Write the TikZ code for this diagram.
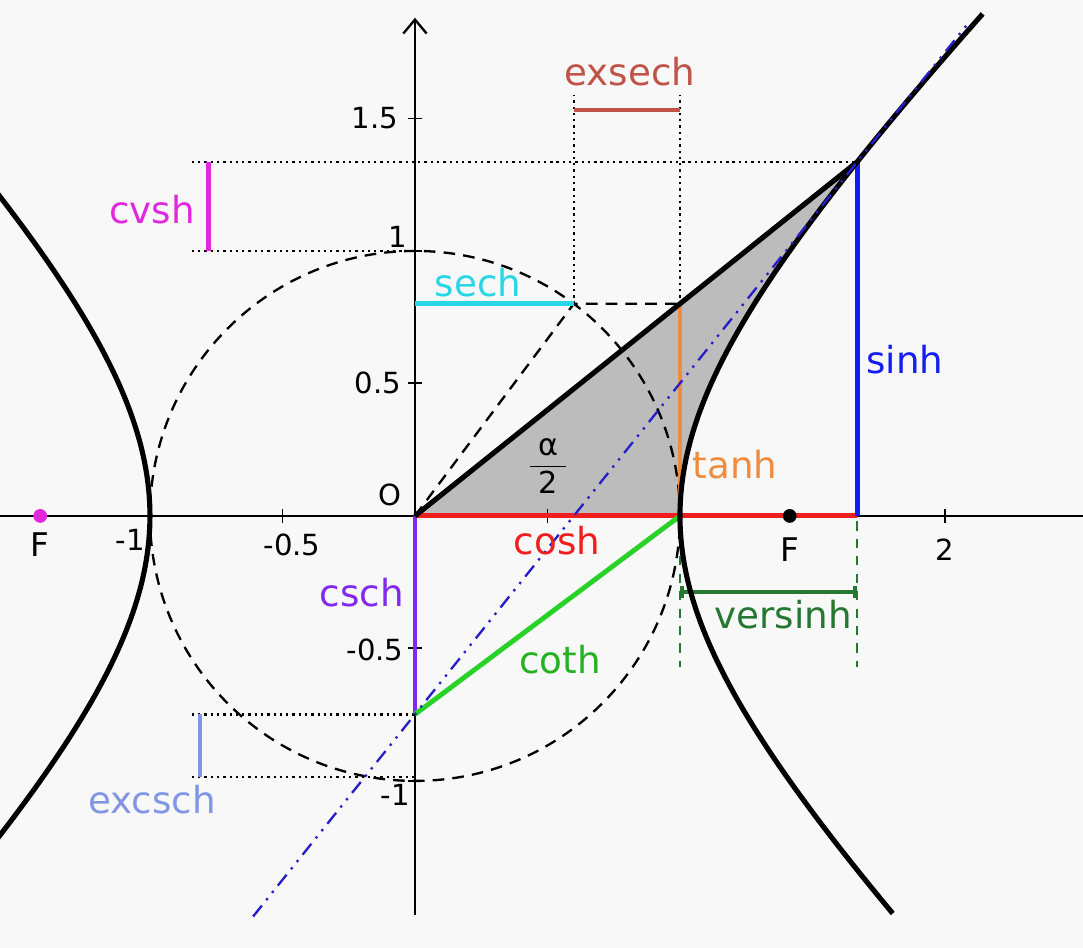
\documentclass[tikz,border=0pt]{standalone}
\usepackage{fontspec}
\setmainfont{DejaVu Sans}
\usetikzlibrary{calc,arrows.meta}

\definecolor{ExsechRed}{RGB}{192,82,72}
\definecolor{CvshMagenta}{RGB}{226,40,222}
\definecolor{SechCyan}{RGB}{40,214,230}
\definecolor{TanhOrange}{RGB}{240,140,64}
\definecolor{SinhBlue}{RGB}{20,30,240}
\definecolor{CoshRed}{RGB}{240,30,30}
\definecolor{CschPurple}{RGB}{130,40,240}
\definecolor{CothGreen}{RGB}{40,210,40}
\definecolor{VersinhGreen}{RGB}{36,120,50}
\definecolor{ExcschBlue}{RGB}{130,150,230}
\definecolor{TangentBlue}{RGB}{40,30,200}
\definecolor{AreaGrey}{RGB}{188,188,188}
\definecolor{PaperGrey}{RGB}{248,248,248}

\begin{document}
\begin{tikzpicture}[x=4cm, y=4cm,
    lbl/.style={font=\fontsize{16}{18}\selectfont},
    ticklbl/.style={font=\fontsize{12.5}{14}\selectfont},
    bar/.style={line width=2.1pt},
    guide/.style={line width=1.1pt, dash pattern=on 1pt off 1.7pt},
    curve/.style={line width=2.2pt}]
    % Frame, origin at the crossing of the axes
    \fill[PaperGrey] (-1.566,-1.630) rectangle (2.521,1.947);
    \useasboundingbox (-1.566,-1.630) rectangle (2.521,1.947);
    \clip (-1.566,-1.630) rectangle (2.521,1.947);

    % Key points for t = 1.1
    \coordinate (O) at (0,0);
    \coordinate (P) at (1.66852,1.33565);   % (cosh, sinh)
    \coordinate (H) at (1.66852,0);         % cosh on the axis
    \coordinate (A) at (1,0);
    \coordinate (T) at (1,0.80050);         % (1, tanh)
    \coordinate (S) at (0.59934,0.80050);   % (sech, tanh)
    \coordinate (Y) at (0,0.80050);
    \coordinate (C) at (0,-0.74870);        % (0, -csch)

    % Shaded hyperbolic sector
    \fill[AreaGrey] (O) -- (P) -- plot[domain=1.1:0, samples=40, smooth] ({cosh(\x)},{sinh(\x)}) -- cycle;

    % Dotted guides
    \draw[guide] (-0.842,1.33565) -- (P);
    \draw[guide] (-0.842,1) -- (0,1);
    \draw[guide] (S) -- (0.59934,1.59);
    \draw[guide] (T) -- (1,1.59);
    \draw[guide] (-0.842,-0.74870) -- (C);
    \draw[guide] (-0.842,-0.985) -- (0,-0.985);

    % Unit circle and dashed helpers
    \draw[line width=1pt, dash pattern=on 5pt off 3.5pt] (O) circle (1);
    \draw[line width=1pt, dash pattern=on 5pt off 3.5pt] (O) -- (S) -- (T);
    \draw[VersinhGreen, line width=1pt, dash pattern=on 4pt off 3.5pt] (1,-0.02) -- (1,-0.57);
    \draw[VersinhGreen, line width=1pt, dash pattern=on 4pt off 3.5pt] (1.66852,-0.02) -- (1.66852,-0.57);

    % Axes and ticks
    \draw[line width=1pt] (-1.566,0) -- (2.521,0);
    \draw[line width=1pt, -{Straight Barb[length=6pt,width=10pt]}] (0,-1.506) -- (0,1.88);
    \foreach \t in {-1,-0.5,0.5,1,2}
        \draw[line width=0.8pt] (\t,-0.028) -- (\t,0.028);
    \foreach \t in {-1,-0.5,0.5,1,1.5}
        \draw[line width=0.8pt] (-0.028,\t) -- (0.028,\t);

    % Coloured segments
    \draw[bar, CoshRed] (O) -- (H);
    \draw[bar, SinhBlue] (H) -- (P);
    \draw[bar, TanhOrange] (A) -- (T);
    \draw[bar, SechCyan] (Y) -- (S);
    \draw[bar, CschPurple] (O) -- (C);
    \draw[bar, CothGreen] (C) -- (A);
    \draw[bar, ExsechRed] (0.59934,1.532) -- (1,1.532);
    \draw[bar, CvshMagenta] (-0.78,1) -- (-0.78,1.33565);
    \draw[line width=1.7pt, ExcschBlue] (-0.81,-0.74870) -- (-0.81,-0.985);
    \draw[line width=1.6pt, VersinhGreen, {Bar[width=5pt]}-{Bar[width=5pt]}] (1,-0.287) -- (1.66852,-0.287);

    % Hyperbola branches
    \draw[curve] plot[domain=-1.195:1.396, samples=80, smooth] ({cosh(\x)},{sinh(\x)});
    \draw[curve] plot[domain=-1.1:1.1, samples=60, smooth] ({-cosh(\x)},{sinh(\x)});
    \draw[curve] (O) -- (P);

    % Tangent at P
    \draw[TangentBlue, line width=1pt, dash pattern=on 6pt off 3pt on 1pt off 3pt on 1pt off 3pt]
        ($(C)!-0.366!(P)$) -- ($(C)!1.255!(P)$);

    % Foci
    \fill (1.41421,0) circle (0.026);
    \fill[CvshMagenta] (-1.41421,0) circle (0.026);

    % Labels
    \node[lbl, text=ExsechRed] (exsech) at (0.811,1.675) {exsech};
    \node[lbl, text=CvshMagenta] (cvsh) at (-0.992,1.155) {cvsh};
    \node[lbl, text=SechCyan] (sech) at (0.238,0.879) {sech};
    \node[lbl, text=TanhOrange] (tanh) at (1.208,0.192) {tanh};
    \node[lbl, text=SinhBlue] (sinh) at (1.849,0.589) {sinh};
    \node[lbl, text=CoshRed] (cosh) at (0.536,-0.094) {cosh};
    \node[lbl, text=CschPurple] (csch) at (-0.2,-0.29) {csch};
    \node[lbl, text=CothGreen!85!black] (coth) at (0.547,-0.543) {coth};
    \node[lbl, text=VersinhGreen] (versinh) at (1.389,-0.374) {versinh};
    \node[lbl, text=ExcschBlue] (excsch) at (-0.992,-1.07) {excsch};
    \node[ticklbl] (origin) at (-0.094,0.079) {O};
    \node[font=\fontsize{13}{15}\selectfont] (half) at (0.502,0.19) {$\displaystyle\frac{\mbox{\;α\;}}{\mbox{2}}$};
    \node[font=\fontsize{14}{16}\selectfont] (focusR) at (1.415,-0.128) {F};
    \node[font=\fontsize{14}{16}\selectfont] (focusL) at (-1.415,-0.109) {F};

    % Tick labels
    \node[ticklbl] (xm1) at (-1.075,-0.091) {-1};
    \node[ticklbl] (xm05) at (-0.464,-0.109) {-0.5};
    \node[ticklbl] (x2) at (2.0,-0.128) {2};
    \node[ticklbl] (y15) at (-0.151,1.502) {1.5};
    \node[ticklbl] (y1) at (-0.064,1.053) {1};
    \node[ticklbl] (y05) at (-0.14,0.502) {0.5};
    \node[ticklbl] (ym05) at (-0.151,-0.506) {-0.5};
    \node[ticklbl] (ym1) at (-0.075,-1.053) {-1};
\end{tikzpicture}
\end{document}
